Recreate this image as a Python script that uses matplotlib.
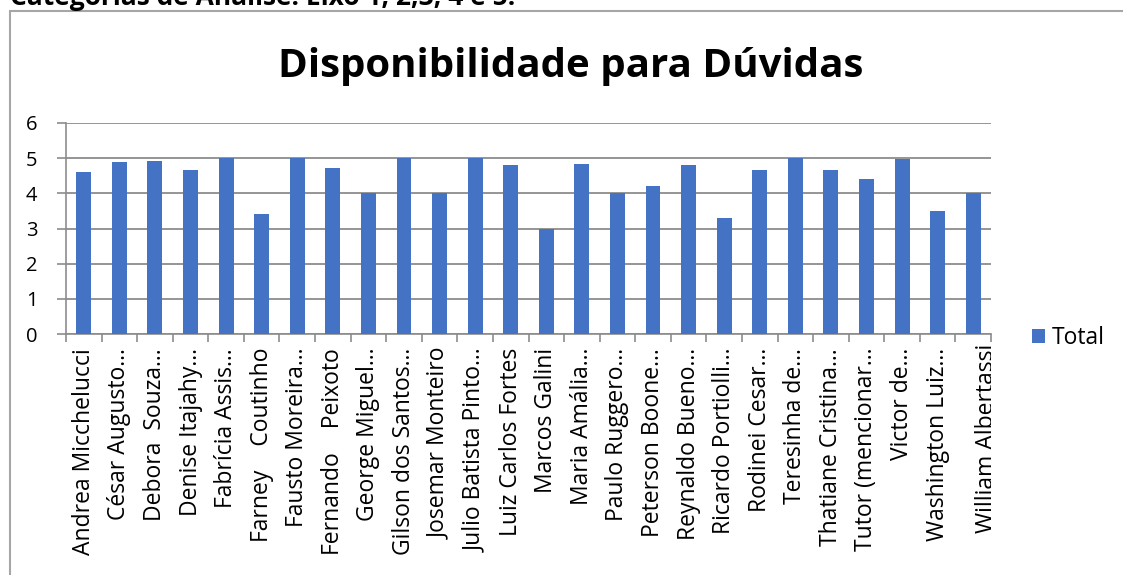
import matplotlib.pyplot as plt
from matplotlib.patches import Rectangle
from matplotlib.transforms import Bbox, TransformedBbox, blended_transform_factory

# data
names = ["Andrea Micchelucci", "César Augusto…", "Debora  Souza…", "Denise Itajahy…",
         "Fabrícia Assis…", "Farney    Coutinho", "Fausto Moreira…", "Fernando    Peixoto",
         "George Miguel…", "Gilson dos Santos…", "Josemar Monteiro", "Julio Batista Pinto…",
         "Luiz Carlos Fortes", "Marcos Galini", "Maria Amália…", "Paulo Ruggero…",
         "Peterson Boone…", "Reynaldo Bueno…", "Ricardo Portiolli…", "Rodinei Cesar…",
         "Teresinha de…", "Thatiane Cristina…", "Tutor (mencionar…", "Victor de…",
         "Washington Luiz…", "William Albertassi"]
total = [4.6, 4.9, 4.93, 4.67, 5.0, 3.4, 5.0, 4.73, 4.0, 5.0, 4.0, 5.0, 4.8,
         3.0, 4.84, 4.0, 4.2, 4.8, 3.29, 4.67, 5.0, 4.67, 4.4, 4.97, 3.5, 4.0]
yticks = [0, 1, 2, 3, 4, 5, 6]

plt.rcParams['font.family'] = ['Open Sans', 'DejaVu Sans']

W, H = 1123, 575
fig = plt.figure(figsize=(W / 100, H / 100), dpi=100)

# outer frame of the embedded chart
fig.patches.append(Rectangle((10 / W, -0.1), 1.2, 1 - 11 / H + 0.1, transform=fig.transFigure,
                             fill=False, edgecolor='#a6a6a6', lw=1.5))
fig.text(10 / W, 1 - 5 / H, "Categorias de Análise: Eixo 1, 2,3, 4 e 5.", fontsize=19,
         fontweight='bold', va='baseline', ha='left')
fig.text(571 / W, 1 - 66 / H, "Disponibilidade para Dúvidas", fontsize=29,
         fontweight='bold', ha='center', va='center')

ax = fig.add_axes([66 / W, 1 - 334 / H, 925 / W, 211 / H])
x = list(range(len(names)))
bars = ax.bar(x, total, width=0.42, color='#4472C4', label='Total', zorder=3)

ax.set_ylim(0, 6)
ax.set_xlim(-0.5, len(names) - 0.5)
ax.set_yticks(yticks)
ax.yaxis.grid(True, color='#8c8c8c', lw=1.3, zorder=0)
ax.tick_params(axis='y', length=6.5, color='#8c8c8c', width=1.2, labelsize=14.5, pad=14)
for s in ['top', 'right']:
    ax.spines[s].set_visible(False)
for s in ['left', 'bottom']:
    ax.spines[s].set_color('#8c8c8c')
    ax.spines[s].set_linewidth(1.2)

ax.set_xticks(x)
ax.set_xticklabels(names[:-1] + [''], rotation=90, ha='center', va='top', fontsize=16.5)
ax.tick_params(axis='x', length=0, pad=10)
ax.set_xticks([i - 0.5 for i in range(len(names) + 1)], minor=True)
ax.tick_params(axis='x', which='minor', length=6, color='#8c8c8c', width=1.2)

# last label is cut at the chart's right edge
tr = blended_transform_factory(ax.transData, fig.transFigure)
last = ax.text(x[-1] + 0.4, 1 - 344 / H, names[-1], transform=tr, rotation=90, ha='center', va='top',
               fontsize=16.5, clip_on=False)
last.set_clip_box(TransformedBbox(Bbox([[0, 0], [991 / W, 1]]), fig.transFigure))
last.set_clip_on(True)

fig.legend(handles=[bars], labels=['Total'], loc='center left', bbox_to_anchor=(1032 / W, 1 - 338 / H),
           frameon=False, fontsize=16.5, handlelength=0.55, handleheight=0.55, handletextpad=0.3,
           borderpad=0, borderaxespad=0)

fig.savefig('out.png', dpi=100)
